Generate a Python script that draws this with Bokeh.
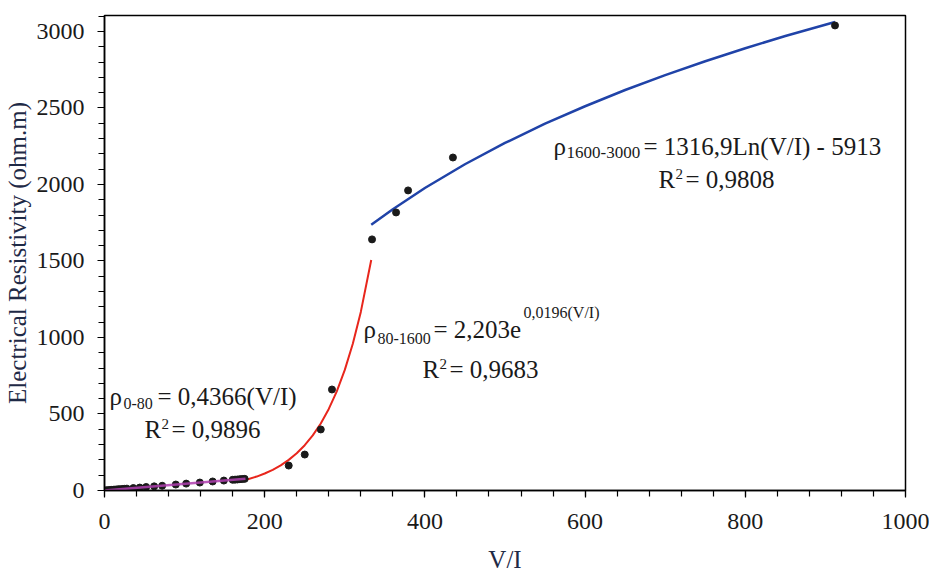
from bokeh.plotting import figure
from bokeh.models import Range1d, SingleIntervalTicker, Label
from bokeh.embed import file_html
from bokeh.resources import INLINE

# ---------------- data ----------------
# measured points (V/I, resistivity)
vi_low = [1, 3, 5, 7, 9, 11, 13, 15, 17, 19, 22, 25, 28, 36, 44, 52, 62, 72, 89, 102, 119, 135, 149,
          160, 163, 166, 169, 172, 175]
rho_low = [0.5, 1.3, 2.2, 3.1, 3.9, 4.8, 5.7, 6.5, 7.4, 8.3, 9.6, 10.9, 12.2, 16, 19, 23, 27, 31, 39,
           45, 52, 59, 65, 70, 71, 72, 74, 75, 76]
vi_mid = [230, 250, 270, 284]
rho_mid = [163, 235, 399, 660]
vi_high = [334, 364, 379, 435, 912]
rho_high = [1641, 1817, 1961, 2176, 3039]

# trend lines
trend_lin_x = [0, 176]
trend_lin_y = [0, 77]
trend_exp_x = [176, 190, 200, 210, 220, 230, 240, 250, 260, 270, 280, 290, 300, 310, 320, 333]
trend_exp_y = [69, 91, 111, 135, 164, 200, 243, 296, 360, 438, 533, 648, 788, 959, 1167, 1506]
trend_log_x = [333, 360, 400, 450, 500, 550, 600, 650, 700, 750, 800, 850, 912]
trend_log_y = [1736, 1838, 1977, 2132, 2271, 2397, 2511, 2617, 2714, 2805, 2890, 2970, 3062]

x_title = "V/I"
y_title = "Electrical Resistivity (ohm.m)"

# ---------------- figure ----------------
X0, X1 = 0, 1000
Y0, Y1 = 0, 3104
FL, FT, FW, FH = 104, 15, 801, 475

p = figure(width=929, height=576, x_range=Range1d(X0, X1), y_range=Range1d(Y0, Y1),
           output_backend="svg", toolbar_location=None,
           min_border_left=FL, min_border_right=929 - FL - FW,
           min_border_top=FT, min_border_bottom=576 - FT - FH)
p.background_fill_color = "white"
p.border_fill_color = "white"
p.outline_line_color = "black"
p.outline_line_width = 1.5
p.xgrid.visible = False
p.ygrid.visible = False

FONT = "Liberation Serif"
TXT = "#1a1a1a"
TITLE_C = "#1f2a46"

p.xaxis.ticker = SingleIntervalTicker(interval=200, num_minor_ticks=5)
p.yaxis.ticker = SingleIntervalTicker(interval=500, num_minor_ticks=5)
for ax in (p.xaxis, p.yaxis):
    ax.axis_line_color = "black"
    ax.axis_line_width = 1.5
    ax.major_tick_line_color = "black"
    ax.minor_tick_line_color = "black"
    ax.major_tick_line_width = 1.2
    ax.minor_tick_line_width = 1.2
    ax.major_tick_in = 0
    ax.major_tick_out = 7
    ax.minor_tick_in = 0
    ax.minor_tick_out = 6
    ax.major_label_text_font = FONT
    ax.major_label_text_font_size = "24px"
    ax.major_label_text_color = TXT
    ax.axis_label_text_font = FONT
    ax.axis_label_text_font_size = "25px"
    ax.axis_label_text_font_style = "normal"
    ax.axis_label_text_color = TITLE_C
p.xaxis.axis_label = x_title
p.yaxis.axis_label = y_title
p.xaxis.major_label_standoff = 16
p.xaxis.axis_label_standoff = 14
p.yaxis.major_label_standoff = 13
p.yaxis.axis_label_standoff = 3

# trend lines
p.line(trend_exp_x, trend_exp_y, line_color="#e8261c", line_width=2)
p.line(trend_log_x, trend_log_y, line_color="#2043a8", line_width=2.5)

# points
p.scatter(vi_low, rho_low, size=7, fill_color="#1a1a1a", line_color="#1a1a1a")
p.scatter(vi_mid, rho_mid, size=7, fill_color="#1a1a1a", line_color="#1a1a1a")
p.scatter(vi_high, rho_high, size=7, fill_color="#1a1a1a", line_color="#1a1a1a")
p.line(trend_lin_x, trend_lin_y, line_color="#b040b0", line_width=2.5, line_alpha=0.85)


def to_data(px, py):
    return X0 + (px - FL) / FW * (X1 - X0), Y1 - (py - FT) / FH * (Y1 - Y0)


labels = [
    # equation 1
    ("ρ", 109, 405, 25), ("0-80", 123, 409, 16), ("= 0,4366(V/I)", 157, 405, 25),
    ("R", 144, 438, 25), ("2", 161, 429, 15), ("= 0,9896", 171, 438, 25),
    # equation 2
    ("ρ", 363, 338, 25), ("80-1600", 377, 344, 16), ("= 2,203e", 433, 338, 25),
    ("0,0196(V/I)", 523, 318, 16),
    ("R", 422, 378, 25), ("2", 439, 369, 15), ("= 0,9683", 449, 378, 25),
    # equation 3
    ("ρ", 553, 155, 25), ("1600-3000", 566, 158, 17), ("= 1316,9Ln(V/I) - 5913", 643, 155, 25),
    ("R", 658, 188, 25), ("2", 675, 179, 15), ("= 0,9808", 685, 188, 25),
]
for txt, px, py, fs in labels:
    x, y = to_data(px, py - 0.36 * fs)
    p.add_layout(Label(x=x, y=y, text=txt, text_font=FONT, text_font_size=f"{fs}px",
                       text_color=TXT, text_align="left", text_baseline="alphabetic"))

open("out.html", "w").write(file_html(p, INLINE))
